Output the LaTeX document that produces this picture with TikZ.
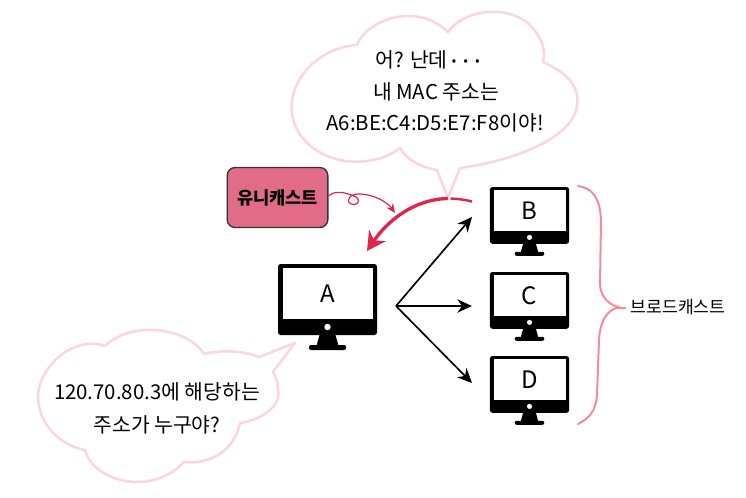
\documentclass[tikz,border=0pt]{standalone}
\usepackage{fontspec}
\setmainfont{Noto Sans CJK KR}
\usetikzlibrary{arrows.meta}

\definecolor{cloudpink}{RGB}{251,214,218}
\definecolor{bracepink}{RGB}{245,140,158}
\definecolor{castred}{RGB}{224,36,78}
\definecolor{boxpink}{RGB}{226,108,136}

\tikzset{
	cloudline/.style={draw=cloudpink,line width=1.9pt,line join=round},
	saytext/.style={inner sep=0.75pt,font=\fontsize{15.3}{18}\selectfont},
	sidetext/.style={inner sep=0.75pt,font=\fontsize{12.9}{15}\selectfont},
	screenlabel/.style={inner sep=0.75pt,font=\fontsize{18}{21}\selectfont},
	castbox/.style={draw=black!80,line width=1pt,fill=boxpink,rounded corners=6pt,minimum width=75.5pt,minimum height=45pt,font=\fontsize{13.2}{15}\bfseries\selectfont},
	sendarrow/.style={-{Stealth[length=11pt,width=10pt]},line width=1.25pt},
}

% monitor: name, centre x, top y, scale, letter
\newcommand{\monitor}[5]{%
	\begin{scope}[shift={(#2,#3)},scale=#4]
		\fill[black,rounded corners=2pt] (-49.5,0) rectangle (49.5,71);
		\fill[white] (-45,4) rectangle (45,55);
		\fill[white] (0,63) circle (3.2);
		\fill[black] (-8,71) -- (8,71) -- (11,82) -- (-11,82) -- cycle;
		\fill[black,rounded corners=1.5pt] (-18.5,81) rectangle (18.5,86);
		\node[screenlabel] (#1) at (0,29.5) {#5};
	\end{scope}}

\begin{document}
\begin{tikzpicture}[x=0.75pt,y=0.75pt,yscale=-1,xscale=1]
	\useasboundingbox (0,0) rectangle (746,497);

	%Upper cloud
	\draw[cloudline] (448,198) -- (437,170)
		.. controls (420,167) and (407,160) .. (400,148)
		.. controls (385,160) and (365,163) .. (345,161)
		.. controls (310,155) and (288,130) .. (292,100)
		.. controls (297,70) and (325,47) .. (357,45)
		.. controls (365,22) and (415,0) .. (448,32)
		.. controls (465,8) and (510,5) .. (530,25)
		.. controls (542,38) and (546,50) .. (543,62)
		.. controls (565,72) and (580,85) .. (577,105)
		.. controls (575,135) and (520,160) .. (460,168)
		-- cycle;

	%Lower cloud
	\draw[cloudline] (295,343) -- (259,357)
		.. controls (240,350) and (220,350) .. (204,354)
		.. controls (190,330) and (135,318) .. (105,346)
		.. controls (75,335) and (40,365) .. (38,395)
		.. controls (38,425) and (60,445) .. (85,450)
		.. controls (92,480) and (150,498) .. (184,462)
		.. controls (210,465) and (235,450) .. (240,423)
		.. controls (262,420) and (282,405) .. (278,390)
		.. controls (278,380) and (275,376) .. (273,372)
		-- cycle;

	\monitor{monA}{327.5}{264}{1}{A}
	\monitor{monB}{529.5}{187}{0.8}{B}
	\monitor{monC}{529.5}{272}{0.8}{C}
	\monitor{monD}{529.5}{356}{0.8}{D}

	%Text
	\node[saytext] (askA) at (429,60) {어? 난데\kern1pt{\fontsize{12}{14}\selectfont\bfseries ·\kern1.5pt·\kern1.5pt·}};
	\node[saytext] (askB) at (436,92) {내 MAC 주소는};
	\node[saytext] (askC) at (435,123) {A6:BE:C4:D5:E7:F8이야!};
	\node[saytext] (whoA) at (157,392) {120.70.80.3에 해당하는};
	\node[saytext] (whoB) at (157,425) {주소가 누구야?};
	\node[castbox] (unicast) at (277.5,197.5) {유니캐스트};
	\node[sidetext] (broadcast) at (678,307) {브로드캐스트};

	%Broadcast arrows
	\coordinate (fork) at (396,306);
	\coordinate (tipB) at (472,217);
	\coordinate (tipC) at (472,306);
	\coordinate (tipD) at (472,383);
	\draw[sendarrow] (fork) -- (tipB);
	\draw[sendarrow] (fork) -- (tipC);
	\draw[sendarrow] (fork) -- (tipD);

	%Unicast arc
	\coordinate (arcR) at (472,201.5);
	\coordinate (arcM) at (450.5,198.5);
	\coordinate (arcL) at (448,198.5);
	\coordinate (arcTip) at (367,251);
	\draw[castred,line width=1.8pt] (arcR) .. controls (464,199.5) and (457,198.8) .. (arcM);
	\draw[castred,line width=2.5pt,-{Stealth[length=14pt,width=15pt]}] (arcL) .. controls (415,199) and (388,220) .. (arcTip);

	%Curl from box to arc
	\coordinate (curlEnd) at (395,213);
	\draw[castred,line width=0.9pt,-{Stealth[length=7pt,width=6pt]}] (unicast.east |- 0,196)
		.. controls (335,190) and (345,192) .. (356,197)
		.. controls (362,202) and (356,206) .. (351,204)
		.. controls (345,201) and (350,194) .. (358,194)
		.. controls (375,194) and (388,203) .. (curlEnd);

	%Brace
	\coordinate (braceTop) at (578,186);
	\coordinate (braceTip) at (626,308);
	\coordinate (braceEnd) at (578,424);
	\draw[bracepink,line width=1.5pt,line cap=round] (braceTop)
		.. controls (592,188) and (600,197) .. (601,220)
		-- (600,285)
		.. controls (601,298) and (610,306) .. (622,308)
		-- (braceTip) -- (616,308)
		.. controls (606,312) and (600,322) .. (599,340)
		-- (597,395)
		.. controls (596,410) and (590,418) .. (braceEnd);
\end{tikzpicture}
\end{document}
